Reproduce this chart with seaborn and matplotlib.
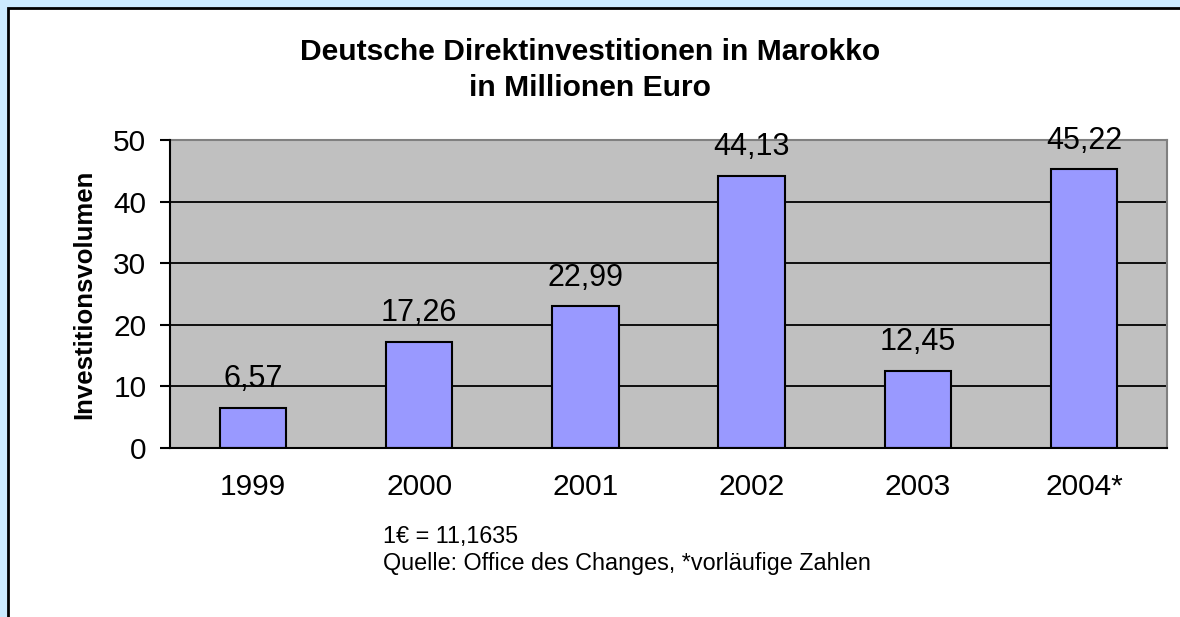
import matplotlib
matplotlib.use("Agg")
import matplotlib.pyplot as plt
import seaborn as sns
import pandas as pd
from matplotlib.patches import Rectangle

jahre = ["1999", "2000", "2001", "2002", "2003", "2004*"]
volumen = [6.57, 17.26, 22.99, 44.13, 12.45, 45.22]
y_ticks = [0, 10, 20, 30, 40, 50]

df = pd.DataFrame({"Jahr": jahre, "Volumen": volumen})

sns.set_style("white")
plt.rcParams["font.family"] = ["Liberation Sans", "DejaVu Sans"]
plt.rcParams.update({"text.color": "black", "axes.labelcolor": "black",
                     "xtick.color": "black", "ytick.color": "black"})

W, H = 1180, 617
fig = plt.figure(figsize=(W / 100, H / 100), dpi=100, facecolor="#CCEBFF")

# weisses Panel mit schwarzem Rand
fig.patches.append(Rectangle((8 / W, -0.1), 1.2, 1.1 - 8 / H, transform=fig.transFigure,
                             facecolor="white", edgecolor="black", linewidth=2, zorder=-1))

ax = fig.add_axes([170 / W, 1 - 448 / H, 997 / W, 308 / H])
ax.set_zorder(2)
ax.set_facecolor("#C0C0C0")

sns.barplot(data=df, x="Jahr", y="Volumen", color="#9999FF", edgecolor="black",
            linewidth=1.5, width=0.4, saturation=1, ax=ax, zorder=3)

ax.set_xlim(-0.5, len(jahre) - 0.5)
ax.set_ylim(0, 50)
ax.set_yticks(y_ticks)
ax.set_yticklabels([str(t) for t in y_ticks])
for t in y_ticks[1:-1]:
    ax.axhline(t, color="black", linewidth=1.3, zorder=1)

# Ticks zwischen den Kategorien, Beschriftung in der Mitte
ax.set_xticks([i - 0.5 for i in range(len(jahre) + 1)])
ax.set_xticklabels([])
ax.set_xticks(range(len(jahre)), minor=True)
ax.set_xticklabels(jahre, minor=True)
ax.tick_params(axis="x", which="major", direction="out", length=7, width=1.5, color="black")
ax.tick_params(axis="x", which="minor", length=0, pad=18, labelsize=21.5)
ax.tick_params(axis="y", direction="out", length=7, width=1.5, color="black", pad=10,
               labelsize=21.5, left=True)

for side in ["top", "right"]:
    ax.spines[side].set_color("#808080")
    ax.spines[side].set_linewidth(1.5)
for side in ["left", "bottom"]:
    ax.spines[side].set_color("black")
    ax.spines[side].set_linewidth(1.5)
    ax.spines[side].set_zorder(4)

ax.set_xlabel("")
ax.set_ylabel("Investitionsvolumen", fontsize=18.5, fontweight="bold", labelpad=12)

for i, v in enumerate(volumen):
    ax.annotate(f"{v:.2f}".replace(".", ","), (i, v), xytext=(0, 15), textcoords="offset points",
                ha="center", va="baseline", fontsize=22, zorder=5, annotation_clip=False)

fig.text(0.5, 1 - 60 / H, "Deutsche Direktinvestitionen in Marokko", ha="center", va="baseline",
         fontsize=21.6, fontweight="bold")
fig.text(0.5, 1 - 96 / H, "in Millionen Euro", ha="center", va="baseline",
         fontsize=21.6, fontweight="bold")

fig.text(383 / W, 1 - 543 / H, "1€ = 11,1635", ha="left", va="baseline", fontsize=16.8)
fig.text(383 / W, 1 - 570 / H, "Quelle: Office des Changes, *vorläufige Zahlen", ha="left",
         va="baseline", fontsize=16.8)

fig.savefig("out.png", dpi=100, facecolor=fig.get_facecolor())
